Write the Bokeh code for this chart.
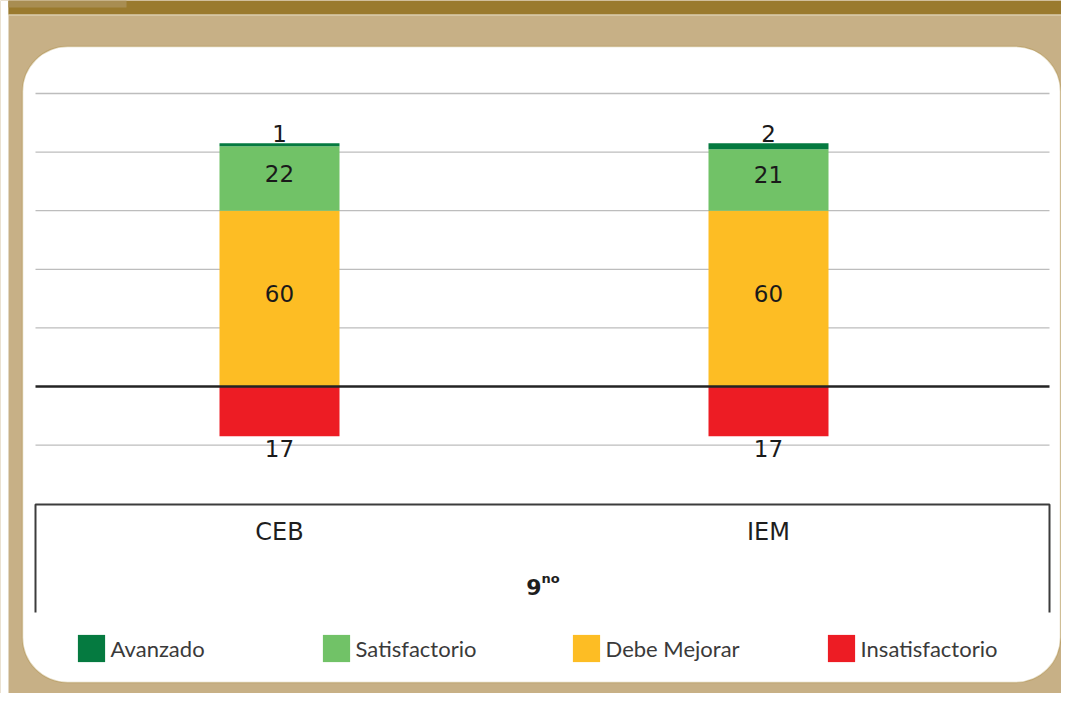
from bokeh.plotting import figure
from bokeh.models import Range1d, BoxAnnotation, Legend, LegendItem
from bokeh.core.properties import value
from bokeh.embed import file_html
from bokeh.resources import INLINE

# ---------------- data ----------------
categories = ["CEB", "IEM"]
group_label = "9"
group_sup = "no"
avanzado = [1, 2]
satisfactorio = [22, 21]
debe_mejorar = [60, 60]
insatisfactorio = [17, 17]
series_names = ["Avanzado", "Satisfactorio", "Debe Mejorar", "Insatisfactorio"]
grid_values = [-20, 20, 40, 60, 80, 100]

# ---------------- styling ----------------
C_AVA = "#057a40"
C_SAT = "#71c267"
C_DEB = "#fdbd24"
C_INS = "#ed1c24"
TAN = "#c7b086"
BROWN = "#9a7a2e"

W, H = 1061, 693
OX, OY = 0, 0


def cx(ref_x):
    return ref_x - OX


def cy(ref_y):
    return H - (ref_y - OY)


# value scale: zero line position and pixels per unit
ZERO_PX = cy(386)
PX_PER_UNIT = 2.93
# category scale
CAT0_PX = cx(279)
CAT_STEP = 489.0
BAR_W = 120.0 / CAT_STEP

p = figure(width=W, height=H, x_range=Range1d(0, W), y_range=Range1d(0, H),
           output_backend="svg", toolbar_location=None, min_border=0,
           x_axis_location=None, y_axis_location=None)
p.grid.visible = False
p.outline_line_color = None
p.background_fill_color = TAN
p.border_fill_color = TAN

p.extra_y_ranges = {"val": Range1d(-ZERO_PX / PX_PER_UNIT, (H - ZERO_PX) / PX_PER_UNIT)}
p.extra_x_ranges = {"cat": Range1d(-CAT0_PX / CAT_STEP, (W - CAT0_PX) / CAT_STEP)}

# page edge and top header strip
p.quad(left=0, right=cx(8), top=H, bottom=0, fill_color="white", line_color=None)
p.quad(left=cx(8), right=W, top=cy(0), bottom=cy(14), fill_color=BROWN, line_color=None)
p.quad(left=cx(8), right=cx(126), top=cy(0), bottom=cy(7), fill_color="#a88d52", line_color=None)
p.quad(left=cx(8), right=W, top=cy(14), bottom=cy(15), fill_color="#e6dbc2", line_color=None)

# white rounded panel
panel = BoxAnnotation(left=cx(22), right=cx(1060), top=cy(46), bottom=cy(682),
                      fill_color="white", fill_alpha=1.0, line_color="#a3802f",
                      line_width=1.5, border_radius=45, level="underlay")
p.add_layout(panel)

# gridlines
p.segment(x0=cx(35), x1=cx(1049), y0=grid_values, y1=grid_values,
          y_range_name="val", line_color="#bdbdbd", line_width=1.3)

idx = list(range(len(categories)))
deb_top = list(debe_mejorar)
sat_bot = deb_top
sat_top = [a + b for a, b in zip(sat_bot, satisfactorio)]
ava_bot = sat_top
ava_top = [a + b for a, b in zip(ava_bot, avanzado)]
ins_top = [-v for v in insatisfactorio]

kw = dict(x_range_name="cat", y_range_name="val", width=BAR_W, line_color=None)
r_deb = p.vbar(x=idx, bottom=0, top=deb_top, fill_color=C_DEB, **kw)
r_sat = p.vbar(x=idx, bottom=sat_bot, top=sat_top, fill_color=C_SAT, **kw)
r_ava = p.vbar(x=idx, bottom=ava_bot, top=ava_top, fill_color=C_AVA, **kw)
r_ins = p.vbar(x=idx, bottom=0, top=ins_top, fill_color=C_INS, **kw)

# zero line
p.segment(x0=cx(35), x1=cx(1049), y0=[0], y1=[0], y_range_name="val",
          line_color="#232323", line_width=2.6)

# value labels
NUM_FONT = value("DejaVu Sans")
tkw = dict(x_range_name="cat", y_range_name="val", text_font=NUM_FONT,
           text_font_size="23px", text_color="#1a1a1a", text_align="center",
           text_baseline="middle")
p.text(x=idx, y=[d / 2 for d in debe_mejorar], text=[str(v) for v in debe_mejorar],
       y_offset=-5, **tkw)
p.text(x=idx, y=[b + s / 2 for b, s in zip(sat_bot, satisfactorio)],
       text=[str(v) for v in satisfactorio], y_offset=-5, **tkw)
p.text(x=idx, y=ava_top, text=[str(v) for v in avanzado], y_offset=-10, **tkw)
p.text(x=idx, y=ins_top, text=[str(v) for v in insatisfactorio], y_offset=12, **tkw)

# axis box
p.line(x=[cx(35), cx(35), cx(1049), cx(1049)], y=[cy(612), cy(504), cy(504), cy(612)],
       line_color="#3c3c3c", line_width=2)

# category labels
p.text(x=idx, y=cy(531), text=categories, x_range_name="cat", text_font=NUM_FONT,
       text_font_size="24px", text_color="#1e1e1e", text_align="center",
       text_baseline="middle")
# group label
p.text(x=[cx(541)], y=[cy(586)], text=[group_label], text_font=NUM_FONT,
       text_font_size="22px", text_font_style="bold", text_color="#1e1e1e",
       text_align="right", text_baseline="middle")
p.text(x=[cx(541)], y=[cy(578)], text=[group_sup], text_font=NUM_FONT,
       text_font_size="13px", text_font_style="bold", text_color="#1e1e1e",
       text_align="left", text_baseline="middle")

# legends (one per column)
GW = 34
inset = GW * 0.1
leg_x = [77, 322, 572, 827]
for name, r, lx in zip(series_names, [r_ava, r_sat, r_deb, r_ins], leg_x):
    lg = Legend(items=[LegendItem(label=name, renderers=[r])],
                location=(cx(lx) - inset, H - (662 - OY) - inset),
                glyph_width=GW, glyph_height=GW, label_standoff=3,
                padding=0, margin=0, border_line_color=None,
                background_fill_alpha=0, label_text_font="Lato",
                label_text_font_size="22px", label_text_color="#3a3a3a")
    p.add_layout(lg)

open("out.html", "w").write(file_html(p, INLINE))
